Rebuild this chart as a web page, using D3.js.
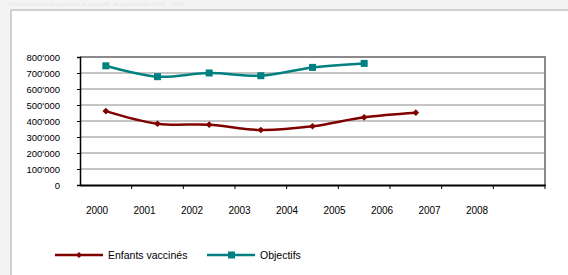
<!DOCTYPE html>
<html>
<head>
<meta charset="utf-8">
<script src="https://cdn.jsdelivr.net/npm/d3@7"></script>
<style>
  body { margin: 0; background: #f4f4f4; }
  svg { display: block; font-family: "Liberation Sans", Arial, sans-serif; }
</style>
</head>
<body>
<svg id="chart" width="568" height="275"></svg>
<script>
// chart data
const years = ["2000", "2001", "2002", "2003", "2004", "2005", "2006", "2007", "2008"];
const enfants = [462000, 383000, 377000, 344000, 367000, 423000, 452000];
const objectifs = [745000, 677000, 700000, 683000, 735000, 760000];
const yTicks = [0, 100000, 200000, 300000, 400000, 500000, 600000, 700000, 800000];

const RED = "#800000";
const TEAL = "#008080";

const svg = d3.select("#chart");

// white panel
svg.append("rect")
    .attr("x", 11).attr("y", 10)
    .attr("width", 570).attr("height", 280)
    .style("fill", "#fff")
    .style("stroke", "#c4c4c4")
    .style("stroke-width", 1.5);

// faint heading at the very top
svg.append("text")
    .attr("x", 8).attr("y", 6)
    .style("font-size", "6px")
    .style("fill", "#e6e6e6")
    .text("Nombre d'enfants vaccinés et objectifs de vaccination 2000 - 2008");

const pLeft = 80, pRight = 545, pTop = 57, pBottom = 185;

const x = d3.scaleBand().domain(years).range([pLeft, pRight]);
const y = d3.scaleLinear().domain([0, 800000]).range([pBottom, pTop]);
// labels in the original sit a bit left of the bands
const xLabel = d3.scalePoint().domain(years).range([97, 477]);

const fmt = v => d3.format(",")(v).replace(/,/g, "'");

// gridlines
svg.append("g")
    .selectAll("line")
    .data(yTicks.slice(1))
    .join("line")
    .attr("x1", pLeft).attr("x2", pRight)
    .attr("y1", d => y(d)).attr("y2", d => y(d))
    .style("stroke", "#8a8a8a")
    .style("stroke-width", 1);

// top and right frame
svg.append("path")
    .attr("d", `M${pLeft},${pTop}H${pRight}V${pBottom}`)
    .style("fill", "none")
    .style("stroke", "#8a8a8a")
    .style("stroke-width", 2);

// y axis
const yAxis = svg.append("g")
    .attr("transform", `translate(${pLeft},0)`)
    .call(d3.axisLeft(y).tickValues(yTicks).tickFormat(fmt).tickSize(3).tickPadding(17));
yAxis.select(".domain").style("stroke", "#000").style("stroke-width", 1.5);
yAxis.selectAll("text").style("font-size", "9.5px").style("fill", "#000");

// x axis: ticks on band boundaries
const xAxis = svg.append("g")
    .attr("transform", `translate(0,${pBottom})`)
    .call(d3.axisBottom(x).tickSize(0).tickFormat(""));
xAxis.select(".domain").style("stroke", "#000").style("stroke-width", 2);
svg.append("g")
    .selectAll("line")
    .data(years)
    .join("line")
    .attr("x1", d => x(d) + x.bandwidth()).attr("x2", d => x(d) + x.bandwidth())
    .attr("y1", pBottom).attr("y2", pBottom + 4)
    .style("stroke", "#000");

svg.append("g")
    .selectAll("text")
    .data(years)
    .join("text")
    .attr("x", d => xLabel(d))
    .attr("y", 214)
    .attr("text-anchor", "middle")
    .style("font-size", "10px")
    .text(d => d);

// series
const line = d3.line()
    .x((d, i) => x(years[i]) + x.bandwidth() / 2)
    .y(d => y(d))
    .curve(d3.curveCatmullRom.alpha(0.5));

svg.append("path")
    .datum(objectifs)
    .attr("d", line)
    .style("fill", "none")
    .style("stroke", TEAL)
    .style("stroke-width", 2.5);

svg.append("g")
    .selectAll("rect")
    .data(objectifs)
    .join("rect")
    .attr("x", (d, i) => x(years[i]) + x.bandwidth() / 2 - 3.5)
    .attr("y", d => y(d) - 3.5)
    .attr("width", 7).attr("height", 7)
    .style("fill", TEAL);

svg.append("path")
    .datum(enfants)
    .attr("d", line)
    .style("fill", "none")
    .style("stroke", RED)
    .style("stroke-width", 2.5);

const diamond = d3.symbol().type(d3.symbolSquare).size(22);
svg.append("g")
    .selectAll("path")
    .data(enfants)
    .join("path")
    .attr("d", diamond)
    .attr("transform", (d, i) => `translate(${x(years[i]) + x.bandwidth() / 2},${y(d)}) rotate(45)`)
    .style("fill", RED);

// legend
const legend = [
  { name: "Enfants vaccinés", color: RED, x0: 55, marker: "diamond" },
  { name: "Objectifs", color: TEAL, x0: 207, marker: "square" }
];
const ly = 255;
const lg = svg.append("g");
legend.forEach(l => {
  lg.append("line")
      .attr("x1", l.x0).attr("x2", l.x0 + 48)
      .attr("y1", ly).attr("y2", ly)
      .style("stroke", l.color)
      .style("stroke-width", 2.5);
  if (l.marker === "diamond") {
    lg.append("path")
        .attr("d", d3.symbol().type(d3.symbolSquare).size(18))
        .attr("transform", `translate(${l.x0 + 24},${ly}) rotate(45)`)
        .style("fill", l.color);
  } else {
    lg.append("rect")
        .attr("x", l.x0 + 21).attr("y", ly - 3.5)
        .attr("width", 7).attr("height", 7)
        .style("fill", l.color);
  }
  lg.append("text")
      .attr("x", l.x0 + 53).attr("y", ly + 3.5)
      .style("font-size", "10.5px")
      .text(l.name);
});
</script>
</body>
</html>
